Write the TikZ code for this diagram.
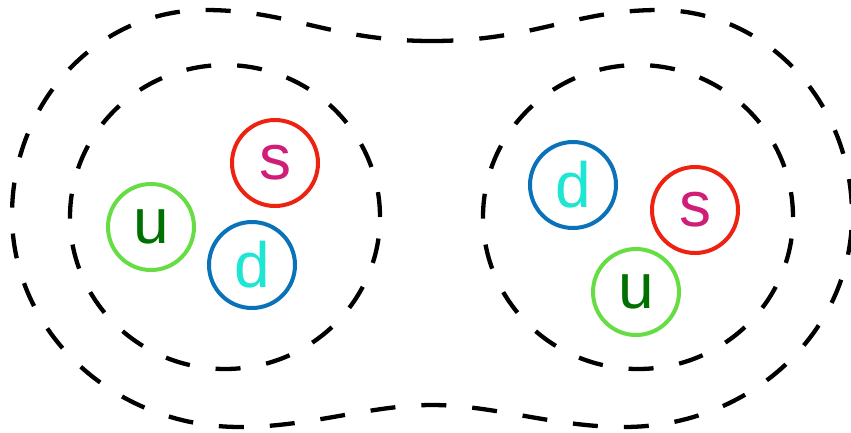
\documentclass[tikz,border=0pt]{standalone}
\usepackage{fontspec}
\setmainfont{Liberation Sans}
\definecolor{ringgreen}{RGB}{102,221,68}
\definecolor{textgreen}{RGB}{0,112,0}
\definecolor{ringred}{RGB}{238,34,17}
\definecolor{textmagenta}{RGB}{208,30,120}
\definecolor{ringblue}{RGB}{10,114,184}
\definecolor{textcyan}{RGB}{30,230,210}
\tikzset{
  shell/.style={line width=4.3pt, dash pattern=on 25pt off 26pt, black},
  quark/.style={circle, draw, line width=4pt, minimum size=86pt, inner sep=0pt,
    font=\fontsize{64}{64}\selectfont},
  qu/.style={quark, draw=ringgreen, text=textgreen},
  qs/.style={quark, draw=ringred, text=textmagenta},
  qd/.style={quark, draw=ringblue, text=textcyan}
}
\begin{document}
\begin{tikzpicture}[x=1pt,y=-1pt]
\useasboundingbox[fill=white] (0,0) rectangle (851,432);
% outer peanut
\draw[shell] (432,41)
  .. controls (330,41) and (290,10) .. (205,10)
  .. controls (98,10) and (12,102) .. (12,215)
  .. controls (12,332) and (114,427) .. (240,427)
  .. controls (310,427) and (370,405) .. (432,405)
  .. controls (494,405) and (554,427) .. (624,427)
  .. controls (750,427) and (852,332) .. (852,215)
  .. controls (852,102) and (766,10) .. (659,10)
  .. controls (574,10) and (534,41) .. (432,41) -- cycle;
% inner ellipses
\draw[shell] (225,217) ellipse [x radius=155pt, y radius=152pt];
\draw[shell] (638,217) ellipse [x radius=155pt, y radius=152pt];
% left quarks
\node[qu] (lu) at (151,227) {u};
\node[qs] (ls) at (275,163) {s};
\node[qd] (ld) at (252,265) {d};
% right quarks
\node[qd] (rd) at (573,185) {d};
\node[qs] (rs) at (695,210) {s};
\node[qu] (ru) at (636,292) {u};
\end{tikzpicture}
\end{document}
